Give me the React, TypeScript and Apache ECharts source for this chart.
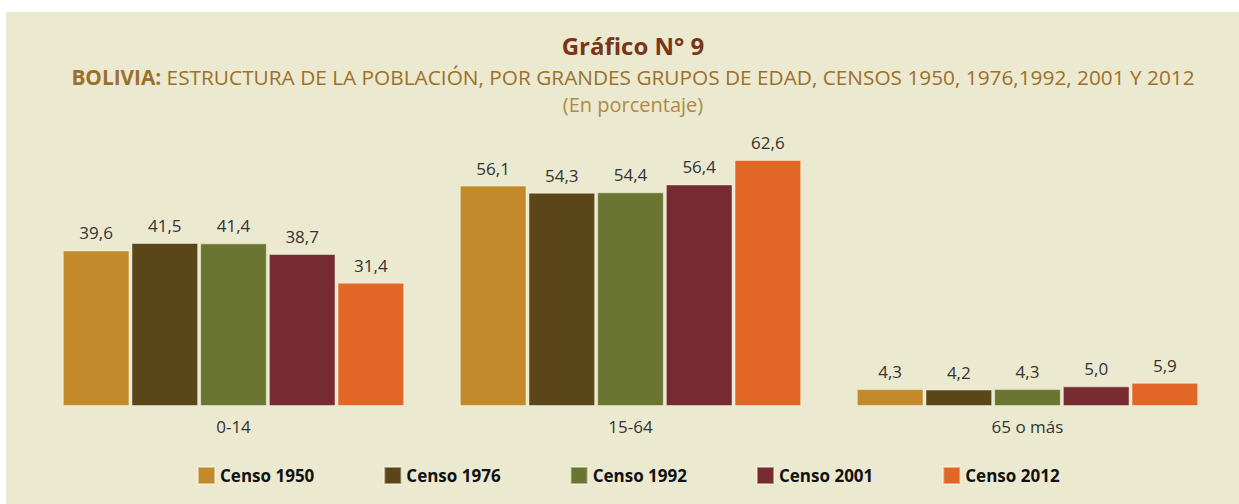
import React, { useEffect, useRef } from "react";
import * as echarts from "echarts";

const categories = ["0-14", "15-64", "65 o más"];
const seriesNames = ["Censo 1950", "Censo 1976", "Censo 1992", "Censo 2001", "Censo 2012"];
const censo1950 = [39.6, 56.1, 4.3];
const censo1976 = [41.5, 54.3, 4.2];
const censo1992 = [41.4, 54.4, 4.3];
const censo2001 = [38.7, 56.4, 5.0];
const censo2012 = [31.4, 62.6, 5.9];
const seriesValues = [censo1950, censo1976, censo1992, censo2001, censo2012];
const colors = ["#C28A2B", "#5B461A", "#6B7532", "#752B30", "#E26626"];

const FONT = "'Open Sans', sans-serif";

export default function App() {
  const ref = useRef<HTMLDivElement>(null);
  useEffect(() => {
    document.body.style.margin = "0";
    const chart = echarts.init(ref.current!, null, { renderer: "svg" });
    chart.setOption({
      animation: false,
      backgroundColor: "#ffffff",
      graphic: [
        {
          type: "rect",
          z: -10,
          silent: true,
          shape: { x: 6, y: 12, width: 1233, height: 492 },
          style: { fill: "#ECE9D1" },
        },
      ],
      title: [
        {
          text: "Gráfico N° 9",
          left: 628,
          textAlign: "center",
          top: 28,
          textStyle: { fontFamily: FONT, fontSize: 24, fontWeight: "bold", color: "#7A3517" },
        },
        {
          text: "{b|BOLIVIA:} ESTRUCTURA DE LA POBLACIÓN, POR GRANDES GRUPOS DE EDAD, CENSOS 1950, 1976,1992, 2001 Y 2012",
          left: 628,
          textAlign: "center",
          top: 61,
          textStyle: {
            fontFamily: FONT,
            fontSize: 20.8,
            fontWeight: "normal",
            color: "#9C7029",
            rich: {
              b: { fontFamily: FONT, fontSize: 20.8, fontWeight: "bold", color: "#9C7029" },
            },
          },
        },
        {
          text: "(En porcentaje)",
          left: 628,
          textAlign: "center",
          top: 89,
          textStyle: { fontFamily: FONT, fontSize: 20, fontWeight: "normal", color: "#B08A45" },
        },
      ],
      legend: {
        data: seriesNames,
        left: 192,
        top: 461,
        itemWidth: 17,
        itemHeight: 17,
        itemGap: 69,
        icon: "rect",
        textStyle: { fontFamily: FONT, fontSize: 17, fontWeight: "bold", color: "#111" },
      },
      grid: { left: 35, right: 13, top: 131, bottom: 98, containLabel: false },
      xAxis: {
        type: "category",
        data: categories,
        axisLine: { show: false },
        axisTick: { show: false },
        axisLabel: { fontFamily: FONT, fontSize: 17, color: "#333", margin: 12 },
      },
      yAxis: { type: "value", min: 0, max: 70, show: false },
      series: seriesNames.map((name, i) => ({
        name,
        type: "bar",
        data: seriesValues[i],
        barGap: "3%",
        barCategoryGap: "14%",
        itemStyle: { color: colors[i], borderColor: "rgba(255,255,240,0.45)", borderWidth: 1 },
        label: {
          show: true,
          position: "top",
          distance: 9,
          fontFamily: FONT,
          fontSize: 17,
          color: "#333",
          formatter: (p: any) => p.value.toFixed(1).replace(".", ","),
        },
      })),
    });
    return () => chart.dispose();
  }, []);
  return <div ref={ref} style={{ width: 1239, height: 504 }} />;
}
